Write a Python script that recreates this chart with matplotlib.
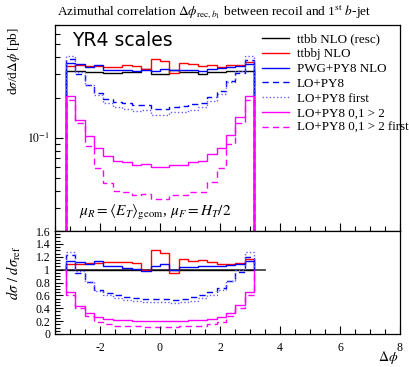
import numpy as np
import matplotlib
matplotlib.use("Agg")
import matplotlib.pyplot as plt
from matplotlib.ticker import MultipleLocator, FixedLocator, NullFormatter, FuncFormatter

plt.rcParams['font.family'] = ['Liberation Serif', 'DejaVu Serif']
plt.rcParams['mathtext.fontset'] = 'stix'

# ---------------- data ----------------
edges = np.linspace(-np.pi, np.pi, 21)

ttbb_nlo_resc = [0.319, 0.319, 0.312, 0.312, 0.305, 0.305, 0.312, 0.312, 0.328, 0.300,
                 0.300, 0.323, 0.312, 0.312, 0.302, 0.312, 0.312, 0.319, 0.319, 0.319]
ttbbj_nlo = [0.345, 0.348, 0.343, 0.343, 0.339, 0.342, 0.349, 0.343, 0.325, 0.390,
             0.378, 0.307, 0.362, 0.356, 0.347, 0.349, 0.340, 0.348, 0.351, 0.370]
pwg_py8_nlo = [0.364, 0.357, 0.337, 0.353, 0.323, 0.320, 0.321, 0.315, 0.321, 0.318,
               0.327, 0.323, 0.324, 0.324, 0.317, 0.328, 0.331, 0.341, 0.345, 0.360]
lo_py8 = [0.389, 0.303, 0.250, 0.215, 0.195, 0.186, 0.181, 0.175, 0.177, 0.165,
          0.165, 0.171, 0.172, 0.178, 0.181, 0.203, 0.225, 0.265, 0.306, 0.383]
lo_py8_first = [0.408, 0.313, 0.250, 0.209, 0.183, 0.171, 0.165, 0.159, 0.161, 0.147,
                0.147, 0.155, 0.156, 0.162, 0.169, 0.190, 0.212, 0.262, 0.319, 0.408]
lo_py8_01 = [0.207, 0.137, 0.103, 0.0842, 0.0732, 0.0671, 0.0655, 0.0624, 0.0640, 0.0600,
             0.0600, 0.0630, 0.0624, 0.0655, 0.0664, 0.0749, 0.0842, 0.105, 0.144, 0.207]
lo_py8_01_first = [0.191, 0.128, 0.0874, 0.0593, 0.0458, 0.0397, 0.0390, 0.0374, 0.0377, 0.0345,
                   0.0345, 0.0371, 0.0374, 0.0390, 0.0393, 0.0468, 0.0593, 0.0893, 0.128, 0.191]

labels = ["ttbb NLO (resc)", "ttbbj NLO", "PWG+PY8 NLO", "LO+PY8", "LO+PY8 first",
          "LO+PY8 0,1 > 2", "LO+PY8 0,1 > 2 first"]
series = [ttbb_nlo_resc, ttbbj_nlo, pwg_py8_nlo, lo_py8, lo_py8_first, lo_py8_01, lo_py8_01_first]
colors = ['black', '#ff0000', '#0000ff', '#0000ff', '#6a5cff', '#ff00ff', '#ff00ff']
styles = ['-', '-', '-', (0, (4.5, 3)), (0, (1, 1.6)), '-', (0, (4.5, 3))]

# ---------------- figure ----------------
W, H = 410, 367
fig = plt.figure(figsize=(W / 100, H / 100), dpi=100)


def fr(l, t, r, b):
    return [l / W, 1 - b / H, (r - l) / W, (b - t) / H]


ax = fig.add_axes(fr(55, 25, 400, 231))
axr = fig.add_axes(fr(55, 231, 400, 334))

ref = np.array(ttbb_nlo_resc)
handles = []
for vals, c, ls, lab in zip(series, colors, styles, labels):
    v = np.array(vals)
    ax.stairs(v, edges, baseline=1e-4, color=c, linestyle=ls, linewidth=1.0)
    axr.stairs(v / ref, edges, baseline=1.0, color=c, linestyle=ls, linewidth=1.0)
    h, = ax.plot([], [], color=c, linestyle=ls, linewidth=1.0, label=lab)
    handles.append(h)

axr.plot([-3.5, 3.5], [1, 1], color='#444444', linewidth=1.3, zorder=0.5)

# top panel axes
ax.set_yscale('log')
ax.set_ylim(0.02, 0.7)
ax.set_xlim(-3.5, 8)
ax.yaxis.set_major_locator(FixedLocator([0.1]))
ax.yaxis.set_major_formatter(FuncFormatter(lambda v, p: r'$10^{-1}$'))
ax.yaxis.set_minor_locator(FixedLocator([0.02, 0.03, 0.04, 0.05, 0.06, 0.07, 0.08, 0.09,
                                         0.2, 0.3, 0.4, 0.5, 0.6, 0.7]))
ax.yaxis.set_minor_formatter(NullFormatter())
ax.xaxis.set_major_locator(MultipleLocator(2))
ax.xaxis.set_minor_locator(MultipleLocator(0.5))
ax.tick_params(axis='x', labelbottom=False)

for a in (ax, axr):
    a.tick_params(which='both', direction='in', top=False, right=False, labelsize=8.5)
    a.tick_params(which='major', length=6, width=0.8)
    a.tick_params(which='minor', length=3.5, width=0.8)
    for s in a.spines.values():
        s.set_linewidth(0.9)

axr.set_xlim(-3.5, 8)
axr.set_ylim(0, 1.6)
axr.xaxis.set_major_locator(MultipleLocator(2))
axr.xaxis.set_minor_locator(MultipleLocator(0.5))
axr.yaxis.set_major_locator(MultipleLocator(0.2))
axr.yaxis.set_minor_locator(MultipleLocator(0.05))
axr.yaxis.set_major_formatter(FuncFormatter(lambda v, p: '%g' % round(v, 2)))
axr.xaxis.set_major_formatter(FuncFormatter(lambda v, p: '%g' % v))
axr.tick_params(axis='x', pad=6)

# labels
fig.text(14 / W, 1 - 27 / H, r'd$\sigma$/d$\Delta\phi$ [pb]', rotation=90,
         ha='center', va='top', fontsize=9.5)
fig.text(14 / W, 1 - 273 / H, r'$d\sigma\ /\ d\sigma_{\mathrm{ref}}$', rotation=90,
         ha='center', va='center', fontsize=10.5)
fig.text(398 / W, 1 - 358 / H, r'$\Delta\phi$', ha='right', va='center', fontsize=10)

fig.text(57 / W, 1 - 12 / H,
         r'Azimuthal correlation $\Delta\phi_{\mathrm{rec},b_1}$ between recoil and 1$^{\mathrm{st}}$ $b$-jet',
         ha='left', va='center', fontsize=9.6)

fig.text(72 / W, 1 - 41 / H, 'YR4 scales', family='DejaVu Sans', fontsize=13.5,
         ha='left', va='center')

fig.text(155 / W, 1 - 213 / H,
         r'$\mu_R = \langle E_T\rangle_{\mathrm{geom}}$, $\mu_F = H_T/2$',
         ha='center', va='center', fontsize=11)

leg = ax.legend(handles=handles, loc='upper left', bbox_to_anchor=(207 / 345, 1 - 8.5 / 206),
                frameon=False, fontsize=9.4, handlelength=2.1, handletextpad=0.55,
                labelspacing=0.2, borderpad=0, borderaxespad=0)

fig.savefig('out.png', dpi=100)
